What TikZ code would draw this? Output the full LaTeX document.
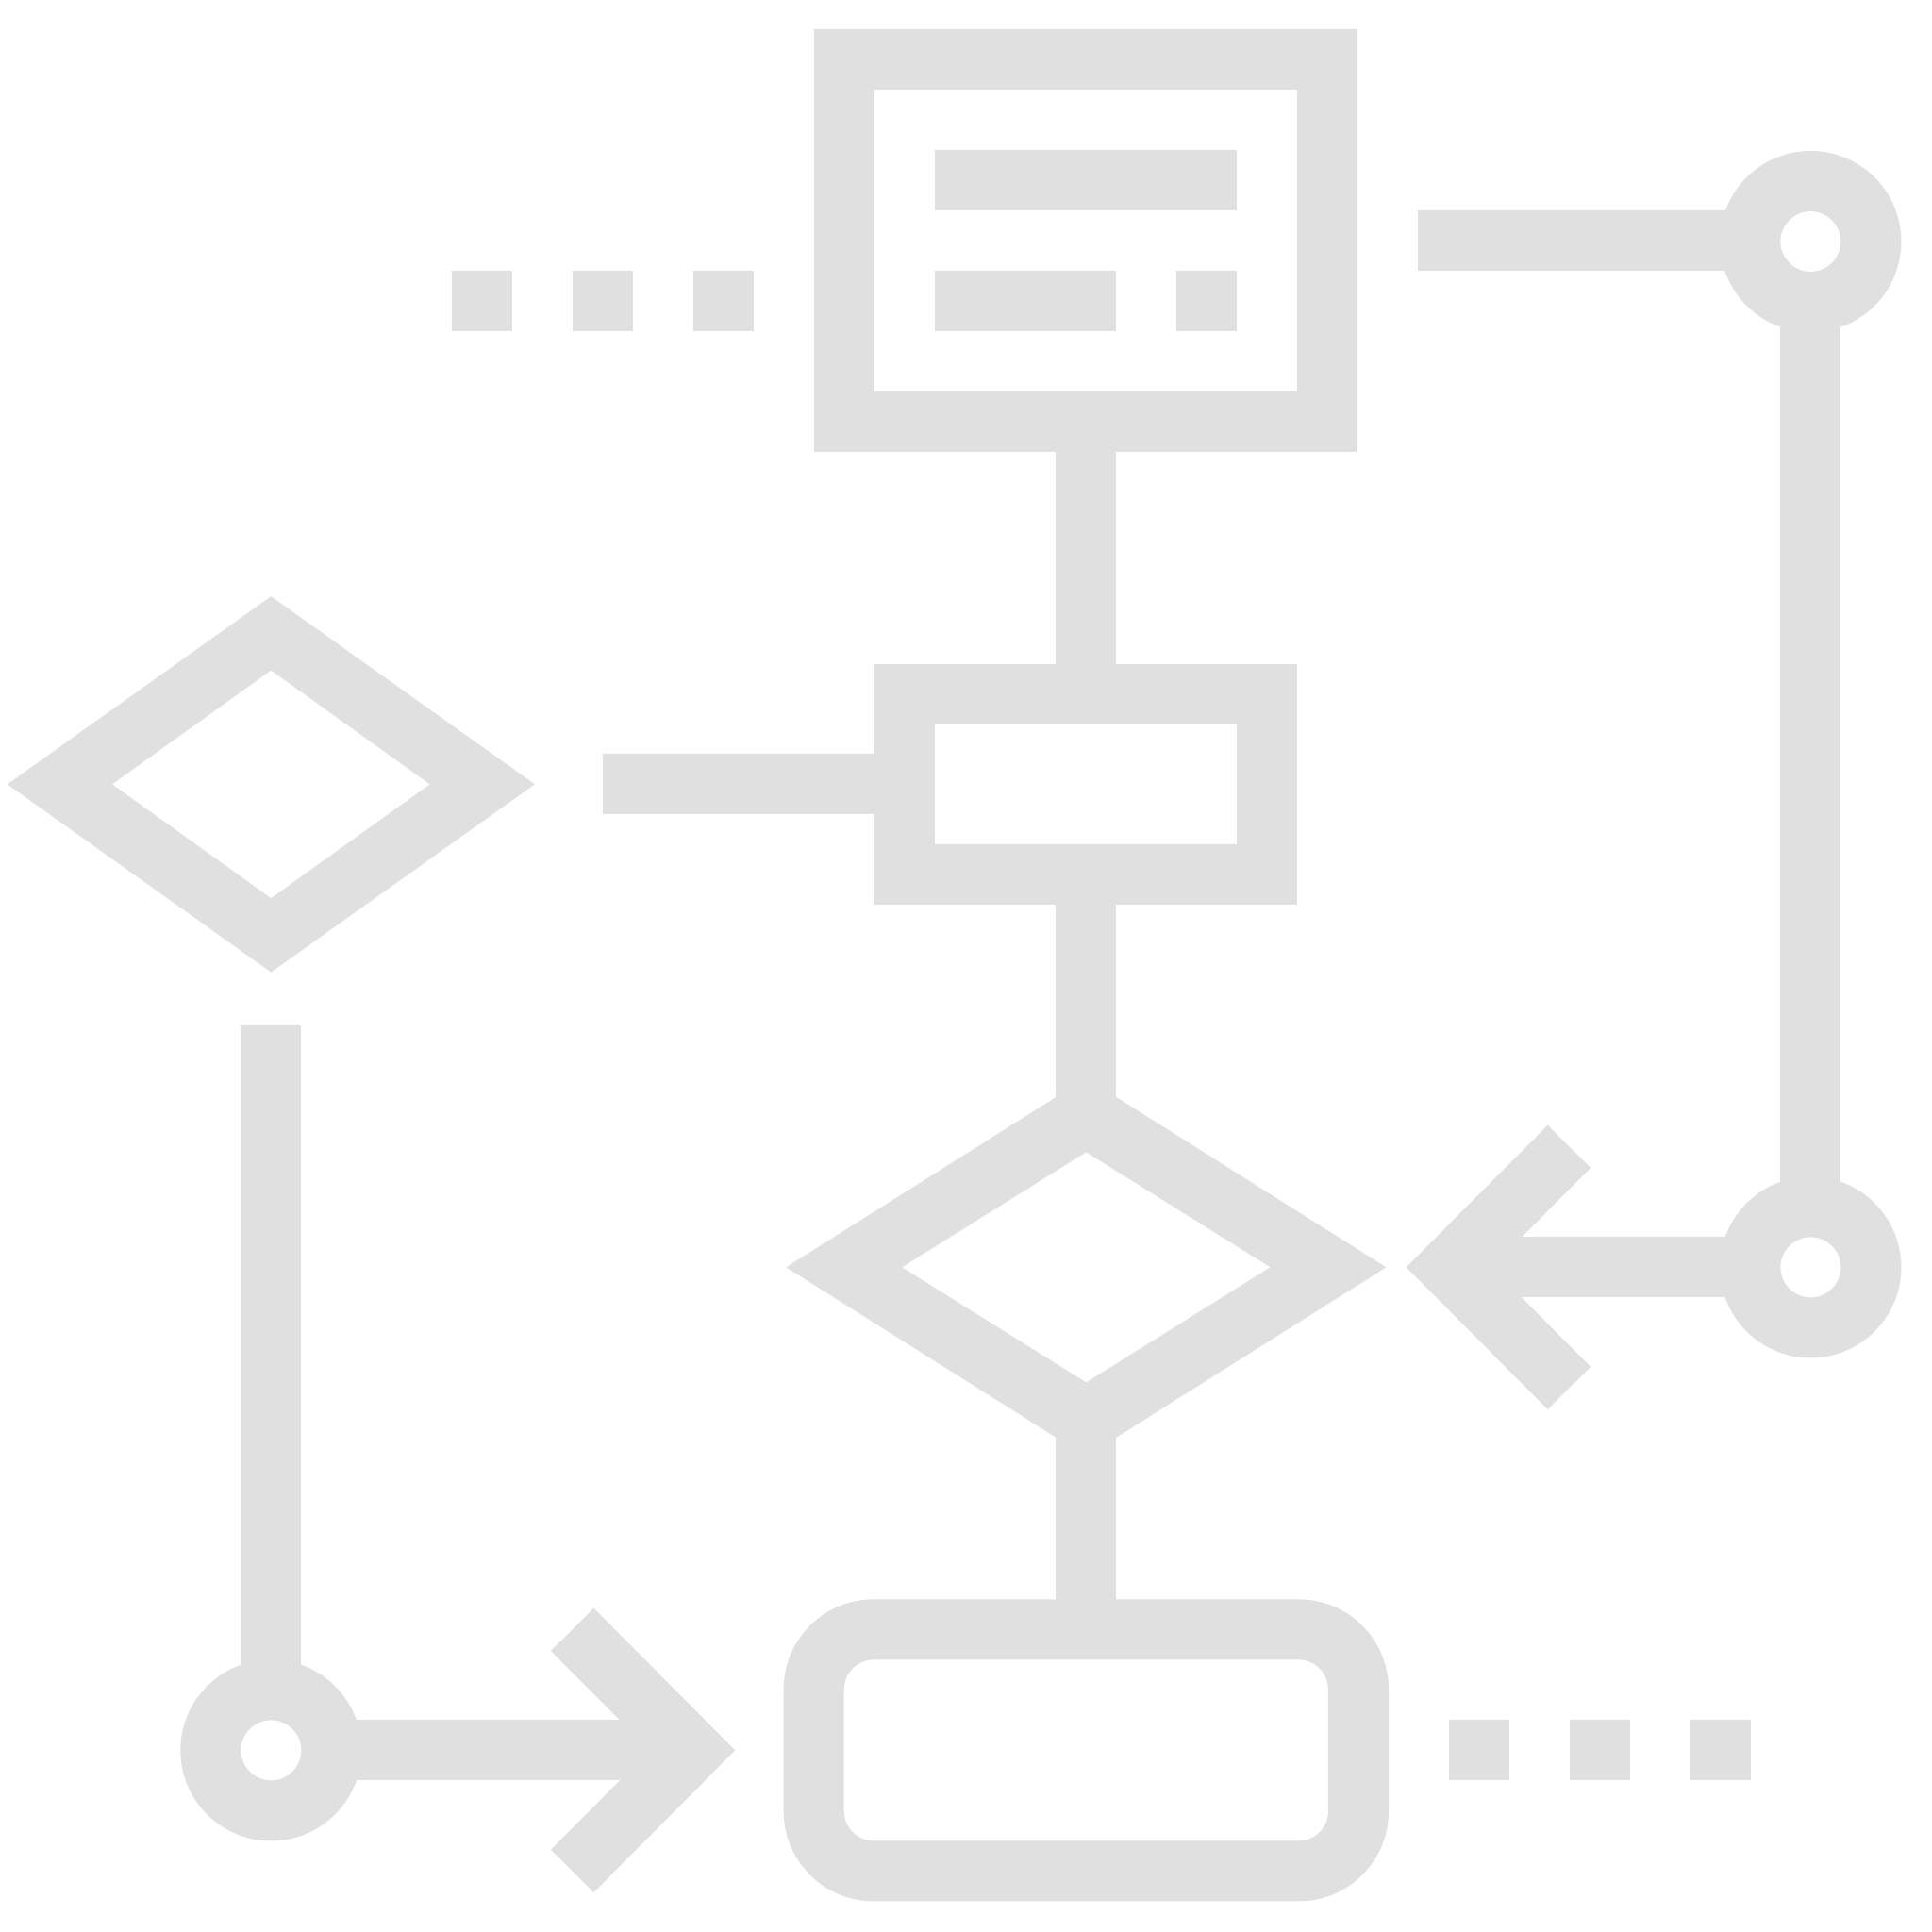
\documentclass[tikz,border=0pt]{standalone}
\definecolor{ic}{RGB}{224,224,224}
\begin{document}
\begin{tikzpicture}[x=0.01cm,y=-0.01cm,
  ln/.style={draw=ic,line width=0.49cm,line join=miter,line cap=butt},
  sq/.style={fill=ic},
  fl/.style={fill=ic,even odd rule}]
\useasboundingbox[fill=white] (0,0) rectangle (1568,1568);
% top document box
\draw[ln] (685.5,48.5) rectangle (1077.5,342.5);
\fill[sq] (759,122) rectangle (1004,171);
\fill[sq] (759,220) rectangle (906,269);
\fill[sq] (955,220) rectangle (1004,269);
% dots left
\foreach \x in {367,465,563} \fill[sq] (\x,220) rectangle (\x+49,269);
% connector top -> middle
\fill[sq] (857,360) rectangle (906,545);
% middle box
\draw[ln] (734.5,563.5) rectangle (1028.5,709.5);
\fill[sq] (489,612) rectangle (716,661);
% connector middle -> diamond
\fill[sq] (857,728) rectangle (906,900);
% main diamond
\fill[fl] (638,1028.5) -- (881.5,875) -- (1125,1028.5) -- (881.5,1182) -- cycle
  (732,1028.5) -- (881.5,935) -- (1031,1028.5) -- (881.5,1122) -- cycle;
% connector diamond -> rounded box
\fill[sq] (857,1160) rectangle (906,1306);
% rounded box
\draw[ln,rounded corners=0.485cm] (660.5,1322.5) rectangle (1102.5,1518.5);
% dots bottom right
\foreach \x in {1176,1274,1372} \fill[sq] (\x,1396) rectangle (\x+49,1445);
% left diamond
\fill[fl] (6,636.5) -- (220,484) -- (434,636.5) -- (220,789) -- cycle
  (91,636.5) -- (220,544) -- (349,636.5) -- (220,729) -- cycle;
% bottom-left connector
\fill[sq] (195,832) rectangle (244,1360);
\draw[ln] (220,1420.5) circle (49);
\fill[sq] (265,1396) rectangle (565,1445);
\draw[ln] (464.5,1322.5) -- (562,1420.5) -- (464.5,1518.5);
% right side
\fill[sq] (1151,171) rectangle (1410,220);
\draw[ln] (1469.5,196) circle (49);
\fill[sq] (1445,240) rectangle (1494,970);
\draw[ln] (1469.5,1028.5) circle (49);
\fill[sq] (1200,1004) rectangle (1430,1053);
\draw[ln] (1273.5,930.5) -- (1176,1028.5) -- (1273.5,1126.5);
\end{tikzpicture}
\end{document}
